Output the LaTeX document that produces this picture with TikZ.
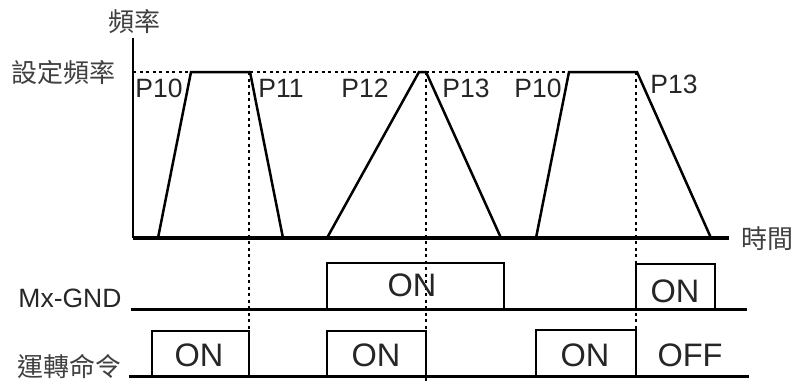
\documentclass[tikz,border=0pt]{standalone}
\usepackage{fontspec}
\setmainfont{Liberation Sans}
\newfontfamily\cjk{Noto Sans CJK TC}
\usepackage{tikz}

\begin{document}
\begin{tikzpicture}[x=1pt,y=-1pt,
        axis/.style={line width=3.6pt},
        level/.style={line width=3pt},
        wave/.style={line width=2.5pt},
        pulse/.style={line width=2.4pt},
        guide/.style={line width=2pt,dash pattern=on 3pt off 3.5pt},
        cjklabel/.style={inner sep=0pt,text=black!75,font=\cjk\fontsize{26}{26}\selectfont},
        plabel/.style={inner sep=0pt,text=black!85,font=\fontsize{26.5}{26}\selectfont},
        state/.style={inner sep=0pt,text=black!85,font=\fontsize{32.5}{32}\selectfont}
    ]
    \useasboundingbox (0,0) rectangle (795,381);
    % dotted guides
    \draw[guide] (133,72) -- (569,72);
    \draw[guide] (249,72) -- (249,331);
    \draw[guide] (426,72) -- (426,381);
    \draw[guide] (636,72) -- (636,331);
    % axes
    \draw[line width=2.3pt] (133,38) -- (133,238);
    \draw[axis] (133,238) -- (729,238);
    % frequency curve
    \draw[wave] (158,238) -- (191,72) -- (250,72) -- (283,238);
    \draw[wave] (327,238) -- (419,72) -- (426,72) -- (501,238);
    \draw[wave] (536,238) -- (569,72) -- (637,72) -- (711,238);
    % Mx-GND
    \draw[level] (131,309) -- (747,309);
    \draw[pulse] (327,309) |- (504,263) -- (504,309);
    \draw[pulse] (636,309) |- (715,264) -- (715,309);
    % run command
    \draw[level] (129,376) -- (749,376);
    \draw[pulse] (152,376) |- (249,331) -- (249,376);
    \draw[pulse] (327,376) |- (426,331) -- (426,376);
    \draw[pulse] (536,376) |- (636,330) -- (636,376);
    % labels
    \node[cjklabel] (freq) at (134,22) {頻率};
    \node[cjklabel] (setfreq) at (63,73) {設定頻率};
    \node[cjklabel] (time) at (767,239) {時間};
    \node[plabel] (mxgnd) at (70,298) {Mx-GND};
    \node[cjklabel] (runcmd) at (69,366) {運轉命令};
    \node[plabel] (pa) at (159,88) {P10};
    \node[plabel] (pb) at (281,88) {P11};
    \node[plabel] (pc) at (365,88) {P12};
    \node[plabel] (pd) at (466,88) {P13};
    \node[plabel] (pe) at (538,88) {P10};
    \node[plabel] (pf) at (674,84) {P13};
    \node[state] (mxon) at (412,285) {ON};
    \node[state] (mxonb) at (675,291) {ON};
    \node[state] (runa) at (199,355) {ON};
    \node[state] (runb) at (376,355) {ON};
    \node[state] (runc) at (585,355) {ON};
    \node[state] (runoff) at (690,355) {OFF};
\end{tikzpicture}
\end{document}
